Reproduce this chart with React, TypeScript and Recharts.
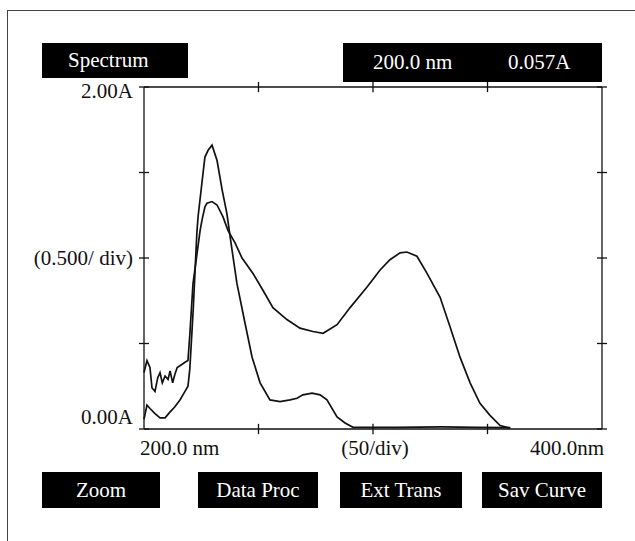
import React from 'react';
import { LineChart, Line, XAxis, YAxis, ReferenceLine } from 'recharts';

// wavelength (nm) / absorbance (A)
const narrowNm = [200, 201.3, 202.6, 204.8, 207, 209.2, 211.4, 213.5, 215.7, 217.9, 219.2, 220, 221.5, 223.1, 223.6, 225.3, 226.6, 228, 229.7, 231.9, 234.1, 236.2, 238.4, 240.6, 244.1, 247.2, 250.7, 255, 259.4, 263.8, 266.8, 269.4, 273.4, 276.9, 279.9, 284.3, 287.8, 291.3, 310, 330, 345, 360];
const narrowAbs = [0.057, 0.14, 0.12, 0.09, 0.065, 0.065, 0.1, 0.13, 0.17, 0.22, 0.25, 0.35, 0.7, 1.15, 1.24, 1.44, 1.59, 1.63, 1.66, 1.57, 1.4, 1.26, 1.05, 0.85, 0.62, 0.42, 0.27, 0.17, 0.16, 0.17, 0.18, 0.2, 0.21, 0.2, 0.17, 0.07, 0.035, 0.01, 0.01, 0.012, 0.01, 0.008];

const broadNm = [200, 201.3, 202.6, 203.5, 204.8, 206, 207, 208, 209.2, 210.5, 211.4, 212.5, 213.5, 214.5, 215.7, 217.9, 219.2, 220, 221.4, 223.1, 224.5, 225.3, 226.6, 227.5, 229.7, 231.9, 234.5, 236.7, 239.7, 242.8, 247.6, 252, 256.3, 262.4, 268.1, 273.8, 278.2, 284.3, 290, 297.4, 303.1, 307.4, 311.8, 314.8, 319.2, 323.6, 329.3, 333.6, 338, 342.4, 346.7, 351.1, 355.5, 359.8];
const broadAbs = [0.33, 0.4, 0.36, 0.24, 0.22, 0.3, 0.33, 0.27, 0.31, 0.29, 0.34, 0.27, 0.32, 0.36, 0.37, 0.39, 0.4, 0.55, 0.85, 1.02, 1.16, 1.22, 1.3, 1.32, 1.33, 1.31, 1.24, 1.16, 1.09, 1.0, 0.91, 0.81, 0.71, 0.64, 0.59, 0.57, 0.56, 0.61, 0.71, 0.83, 0.93, 0.99, 1.03, 1.035, 1.01, 0.91, 0.77, 0.6, 0.42, 0.27, 0.15, 0.08, 0.02, 0.005];

const xTicks = [200, 250, 300, 350, 400];
const yTicks = [0, 0.5, 1, 1.5, 2];
const xLabels: Record<number, string> = { 200: '200.0 nm', 300: '(50/div)', 400: '400.0nm' };
const yLabels: Record<number, string> = { 2: '2.00A', 1: '(0.500/ div)', 0: '0.00A' };
const buttons = ['Zoom', 'Data Proc', 'Ext Trans', 'Sav Curve'];

const narrowData = narrowNm.map((nm, i) => ({ nm, abs: narrowAbs[i] }));
const broadData = broadNm.map((nm, i) => ({ nm, abs: broadAbs[i] }));

const FONT = '"Liberation Serif", "DejaVu Serif", serif';
const INK = '#111';
// half length of the cross ticks, in data units (~5px)
const HALF_NM = 2.2;
const HALF_A = 0.03;

const XLabel = (props: any) => {
  const { x, y, payload } = props;
  const v = payload.value;
  const text = xLabels[v];
  if (!text) return null;
  const anchor = v === 200 ? 'start' : v === 400 ? 'end' : 'middle';
  const tx = v === 200 ? x - 4 : x + 2;
  return (
    <text x={tx} y={y + 26} textAnchor={anchor} fontFamily={FONT} fontSize={21} fill={INK}>
      {text}
    </text>
  );
};

const YLabel = (props: any) => {
  const { x, y, payload } = props;
  const v = payload.value;
  const text = yLabels[v];
  if (!text) return null;
  const dy = v === 2 ? 11 : v === 0 ? -5 : 7;
  return (
    <text x={x - 11} y={y + dy} textAnchor="end" fontFamily={FONT} fontSize={21} fill={INK}>
      {text}
    </text>
  );
};

const box: React.CSSProperties = {
  position: 'absolute',
  background: '#000',
  color: '#fff',
  fontFamily: FONT,
  fontSize: 21,
  display: 'flex',
  alignItems: 'center',
  justifyContent: 'center',
};

const buttonLeft = [42, 198, 340, 482];
const buttonWidth = [118, 120, 122, 120];

export default function App() {
  return (
    <div style={{ position: 'absolute', left: 0, top: 0, width: 635, height: 541, background: '#fff', overflow: 'hidden' }}>
      <div style={{ position: 'absolute', left: 7, top: 10, width: 640, height: 540, borderLeft: '1px solid #444', borderTop: '1px solid #444' }} />
      <LineChart width={635} height={541} margin={{ top: 67, right: 13, bottom: 92, left: 124 }}>
        <XAxis xAxisId="b" dataKey="nm" type="number" domain={[200, 400]} ticks={xTicks} interval={0}
          stroke={INK} strokeWidth={1.3} tickLine={false} tickSize={0} tickMargin={0} height={20}
          tick={<XLabel />} />
        <XAxis xAxisId="t" orientation="top" dataKey="nm" type="number" domain={[200, 400]} ticks={xTicks}
          stroke={INK} strokeWidth={1.3} tickLine={false} tick={false} height={20} />
        <YAxis yAxisId="l" type="number" domain={[0, 2]} ticks={yTicks} interval={0}
          stroke={INK} strokeWidth={1.3} tickLine={false} tickSize={0} tickMargin={0} width={20}
          tick={<YLabel />} />
        <YAxis yAxisId="r" orientation="right" type="number" domain={[0, 2]} ticks={yTicks}
          stroke={INK} strokeWidth={1.3} tickLine={false} tick={false} width={20} />
        {xTicks.slice(1, -1).flatMap((t) => [
          <ReferenceLine key={`b${t}`} xAxisId="b" yAxisId="l" ifOverflow="visible" stroke={INK} strokeWidth={1.3}
            segment={[{ x: t, y: -HALF_A }, { x: t, y: HALF_A }]} />,
          <ReferenceLine key={`t${t}`} xAxisId="b" yAxisId="l" ifOverflow="visible" stroke={INK} strokeWidth={1.3}
            segment={[{ x: t, y: 2 - HALF_A }, { x: t, y: 2 + HALF_A }]} />,
        ])}
        {yTicks.flatMap((t) => [
          <ReferenceLine key={`l${t}`} xAxisId="b" yAxisId="l" ifOverflow="visible" stroke={INK} strokeWidth={1.3}
            segment={[{ x: 200 - HALF_NM, y: t }, { x: 200 + HALF_NM, y: t }]} />,
          <ReferenceLine key={`r${t}`} xAxisId="b" yAxisId="l" ifOverflow="visible" stroke={INK} strokeWidth={1.3}
            segment={[{ x: 400 - HALF_NM, y: t }, { x: 400 + HALF_NM, y: t }]} />,
        ])}
        <Line xAxisId="b" yAxisId="l" data={narrowData} dataKey="abs" type="linear" stroke={INK}
          strokeWidth={1.7} dot={false} isAnimationActive={false} />
        <Line xAxisId="b" yAxisId="l" data={broadData} dataKey="abs" type="linear" stroke={INK}
          strokeWidth={1.7} dot={false} isAnimationActive={false} />
      </LineChart>
      <div style={{ ...box, left: 42, top: 43, width: 146, height: 35, justifyContent: 'flex-start', paddingLeft: 26, boxSizing: 'border-box' }}>Spectrum</div>
      <div style={{ ...box, left: 343, top: 43, width: 259, height: 39 }}>
        <span style={{ position: 'absolute', left: 30 }}>200.0 nm</span>
        <span style={{ position: 'absolute', left: 165 }}>0.057A</span>
      </div>
      {buttons.map((b, i) => (
        <div key={b} style={{ ...box, left: buttonLeft[i], top: 472, width: buttonWidth[i], height: 36 }}>{b}</div>
      ))}
    </div>
  );
}
